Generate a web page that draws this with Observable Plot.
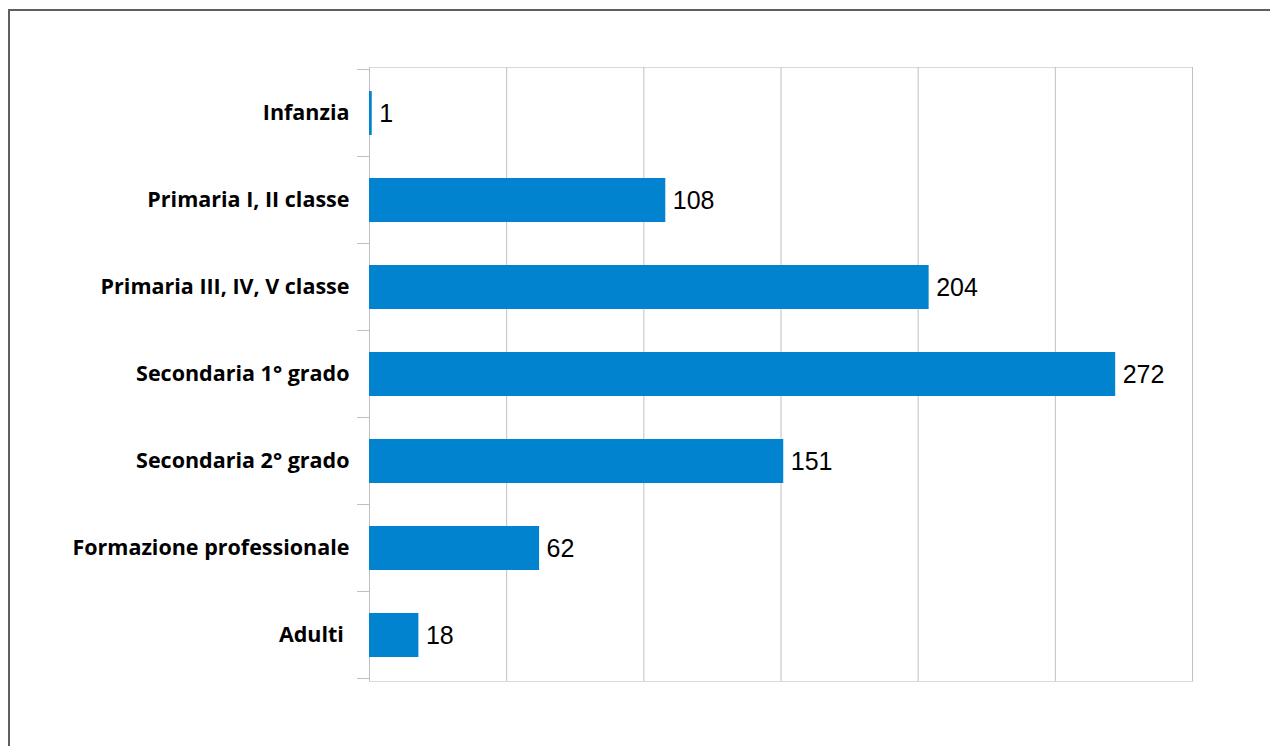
<!DOCTYPE html>
<html>
<head>
<meta charset="utf-8">
<script src="https://cdn.jsdelivr.net/npm/d3@7"></script>
<script src="https://cdn.jsdelivr.net/npm/@observablehq/plot@0.6"></script>
<style>
  html, body { margin: 0; padding: 0; background: #fff; overflow: hidden; }
  #wrap { position: relative; width: 1270px; height: 746px; }
  #frame { position: absolute; left: 8px; top: 9px; width: 1300px; height: 800px; border: 2px solid #5f5f5f; pointer-events: none; }
  g[aria-label="y-axis tick label"] text { font-family: "Open Sans", "Noto Sans", sans-serif; font-weight: bold; font-size: 21.5px; fill: #000; }
</style>
</head>
<body>
<div id="wrap"><div id="frame"></div></div>
<script>
const categories = ["Infanzia", "Primaria I, II classe", "Primaria III, IV, V classe", "Secondaria 1° grado", "Secondaria 2° grado", "Formazione professionale", "Adulti\u00a0"];
const values = [1, 108, 204, 272, 151, 62, 18];
const gridTicks = [0, 50, 100, 150, 200, 250, 300];

const data = categories.map((c, i) => ({cat: c, value: values[i]}));

const plot = Plot.plot({
  width: 1270,
  height: 746,
  marginLeft: 369,
  marginRight: 78,
  marginTop: 67,
  marginBottom: 65,
  style: {background: "transparent", color: "#000"},
  x: {domain: [0, 300], axis: null},
  y: {domain: categories, paddingInner: 0.5, paddingOuter: 0.25, axis: null, label: null},
  marks: [
    Plot.frame({stroke: "#d9d9d9"}),
    Plot.ruleX(gridTicks, {stroke: "#c0c0c0", strokeWidth: 1}),
    Plot.barX(data, {x: "value", y: "cat", fill: "#0283d0"}),
    Plot.text(data, {x: "value", y: "cat", text: d => String(d.value), textAnchor: "start", dx: 7, fontSize: 25, fontFamily: "Liberation Sans, Arial, sans-serif", fill: "#000"}),
    Plot.axisY({tickSize: 0, tickPadding: 20, label: null, fontSize: 21.5, fontWeight: "bold", fontFamily: "Open Sans", fill: "#000"})
  ]
});

document.getElementById("wrap").prepend(plot);

// category boundary tick marks on the y axis, from the plot's own scales
const ys = plot.scale("y");
const xs = plot.scale("x");
const gap = (ys.step - ys.bandwidth) / 2;
const bounds = categories.map(c => ys.apply(c) - gap);
bounds.push(ys.apply(categories[categories.length - 1]) + ys.bandwidth + gap);
const x0 = xs.apply(0);
d3.select(plot).append("g")
  .selectAll("line")
  .data(bounds)
  .join("line")
  .attr("x1", x0 - 12)
  .attr("x2", x0)
  .attr("y1", d => d)
  .attr("y2", d => d)
  .attr("stroke", "#c0c0c0");
</script>
</body>
</html>
